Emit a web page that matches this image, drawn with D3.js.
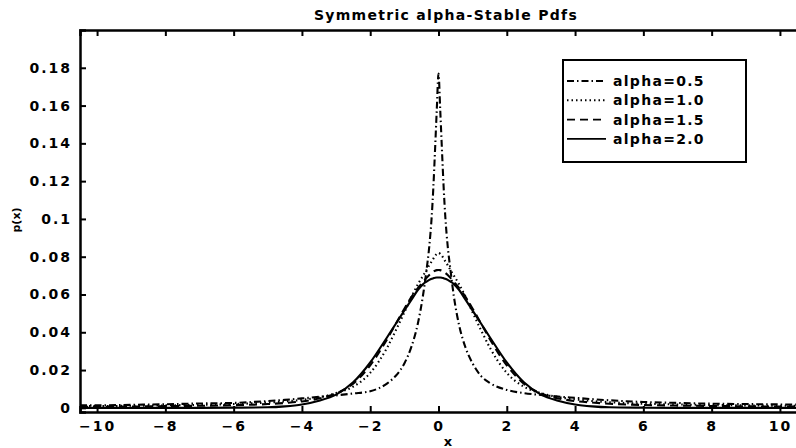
<!DOCTYPE html>
<html>
<head>
<meta charset="utf-8">
<script src="https://cdn.jsdelivr.net/npm/d3@7"></script>
<style>
  body { margin:0; background:#fff; }
  svg text { font-family:"DejaVu Sans", sans-serif; fill:#000; }
</style>
</head>
<body>
<div id="graphe"></div>
<script>
// values
var xVals = [-10.5,-10,-9,-8,-7,-6,-5,-4.5,-4,-3.5,-3,-2.5,-2,-1.5,-1.25,-1,-0.8,-0.6,-0.45,-0.35,-0.27,-0.2,-0.15,-0.1,-0.05,0,
             0.05,0.1,0.15,0.2,0.27,0.35,0.45,0.6,0.8,1,1.25,1.5,2,2.5,3,3.5,4,4.5,5,6,7,8,9,10,10.5];

var alpha05 = [.0013,.0013,.0016,.0019,.0023,.0026,.0036,.0042,.0050,.0058,.0066,.0076,.0088,.0130,.0170,.0235,.0320,.0450,.0600,.0730,.0855,.101,.117,.137,.158,.177,
               .158,.137,.117,.101,.0855,.0730,.0590,.0440,.0315,.0235,.0168,.0132,.0095,.0078,.0068,.0060,.0053,.0046,.0040,.0031,.0026,.0022,.0020,.0018,.0017];
var alpha10 = [.0009,.0009,.0011,.0013,.0016,.0020,.0028,.0034,.0042,.0055,.0078,.0112,.0185,.0320,.0410,.0505,.0585,.0655,.0700,.0730,.0755,.0775,.0790,.0805,.0815,.0820,
               .0815,.0805,.0790,.0775,.0755,.0730,.0700,.0655,.0585,.0505,.0410,.0320,.0185,.0112,.0078,.0057,.0045,.0036,.0030,.0022,.0018,.0015,.0013,.0011,.0011];
var alpha15 = [.0006,.0006,.0007,.0009,.0011,.0014,.0020,.0026,.0034,.0049,.0076,.0128,.0225,.0365,.0445,.0525,.0585,.0635,.0667,.0688,.0703,.0714,.0721,.0726,.0729,.0730,
               .0729,.0726,.0721,.0714,.0703,.0688,.0667,.0635,.0585,.0525,.0445,.0365,.0225,.0128,.0076,.0050,.0036,.0028,.0022,.0015,.0012,.0010,.0008,.0007,.0007];
var alpha20 = [0,0,0,0,0,.0001,.0003,.0008,.0018,.0038,.0070,.0135,.0240,.0375,.0445,.0515,.0570,.0625,.0655,.0668,.0677,.0683,.0686,.0689,.0690,.0690,
               .0690,.0689,.0686,.0683,.0677,.0668,.0655,.0625,.0570,.0515,.0445,.0375,.0240,.0135,.0070,.0038,.0018,.0008,.0003,.0001,0,0,0,0,0];

var seriesNames = ["alpha=0.5","alpha=1.0","alpha=1.5","alpha=2.0"];
var seriesVals  = [alpha05, alpha10, alpha15, alpha20];
var seriesDash  = ["7,3,1.5,3", "1.5,3", "8,5", null];

var xTicks = [-10,-8,-6,-4,-2,0,2,4,6,8,10];
var yTicks = [0,0.02,0.04,0.06,0.08,0.1,0.12,0.14,0.16,0.18];

var svgwidth = 796, svgheight = 448;
var plot = {left:80, top:30, right:797, bottom:412};

var svg = d3.select("#graphe").append("svg")
    .attr("width", svgwidth).attr("height", svgheight);

var x = d3.scaleLinear().domain([-10.5, 10.5]).range([plot.left, plot.right]);
var y = d3.scaleLinear().domain([-0.0022, 0.2]).range([plot.bottom, plot.top]);

svg.append("clipPath").attr("id","clipPlot")
  .append("rect").attr("x",plot.left).attr("y",plot.top)
  .attr("width",plot.right-plot.left).attr("height",plot.bottom-plot.top);

// curves
var line = d3.line()
    .x(function(d){ return x(d[0]); })
    .y(function(d){ return y(d[1]); })
    .curve(d3.curveMonotoneX);

seriesVals.forEach(function(vals, i){
  var pts = xVals.map(function(xv, k){ return [xv, vals[k]]; });
  svg.append("path")
    .datum(pts)
    .attr("clip-path","url(#clipPlot)")
    .attr("fill","none")
    .attr("stroke","#000")
    .attr("stroke-width", 2.1)
    .attr("stroke-dasharray", seriesDash[i])
    .attr("d", line);
});

// axes
var xAxis = d3.axisBottom(x).tickValues(xTicks).tickSize(-6).tickPadding(9)
    .tickFormat(function(d){ return d < 0 ? "\u2212" + Math.abs(d) : d; });
var gx = svg.append("g").attr("transform","translate(0,"+plot.bottom+")").call(xAxis);

var xTop = d3.axisTop(x).tickValues(xTicks).tickSize(-6).tickFormat("");
var gxt = svg.append("g").attr("transform","translate(0,"+plot.top+")").call(xTop);

var yAxis = d3.axisLeft(y).tickValues(yTicks).tickSize(-6).tickPadding(6)
    .tickFormat(function(d){ return d === 0 ? "0" : d3.format("")(+d.toFixed(2)); });
var gy = svg.append("g").attr("transform","translate("+plot.left+",0)").call(yAxis);

[gx, gxt, gy].forEach(function(g){
  g.select(".domain").attr("stroke","#000").attr("stroke-width",2.5);
  g.selectAll(".tick line").attr("stroke","#000").attr("stroke-width",2);
  g.selectAll(".tick text")
    .style("font-family","DejaVu Sans").style("font-size","14px")
    .style("font-weight","bold").style("letter-spacing","2px");
});
gy.selectAll(".tick text").attr("dx","-2");

// title and labels
svg.append("text").attr("x", 446).attr("y", 20)
  .attr("text-anchor","middle")
  .style("font-size","14px").style("font-weight","bold").style("letter-spacing","1.3px")
  .text("Symmetric alpha-Stable Pdfs");

svg.append("text").attr("x", 448).attr("y", 446)
  .attr("text-anchor","middle")
  .style("font-size","13px").style("font-weight","bold")
  .text("x");

svg.append("text")
  .attr("transform","translate(20,220) rotate(-90)")
  .attr("text-anchor","middle")
  .style("font-size","11px").style("font-weight","bold")
  .text("p(x)");

// legend
var legend = svg.append("g");
legend.append("rect")
  .attr("x",563).attr("y",60).attr("width",183).attr("height",102)
  .attr("fill","#fff").attr("stroke","#000").attr("stroke-width",2);

seriesNames.forEach(function(name, i){
  var ly = 81 + i*19.3;
  legend.append("line")
    .attr("x1",567).attr("x2",606).attr("y1",ly).attr("y2",ly)
    .attr("stroke","#000").attr("stroke-width",1.9)
    .attr("stroke-dasharray", seriesDash[i]);
  legend.append("text")
    .attr("x",613).attr("y",ly+5)
    .style("font-size","14px").style("font-weight","bold").style("letter-spacing","1.3px")
    .text(name);
});
</script>
</body>
</html>
